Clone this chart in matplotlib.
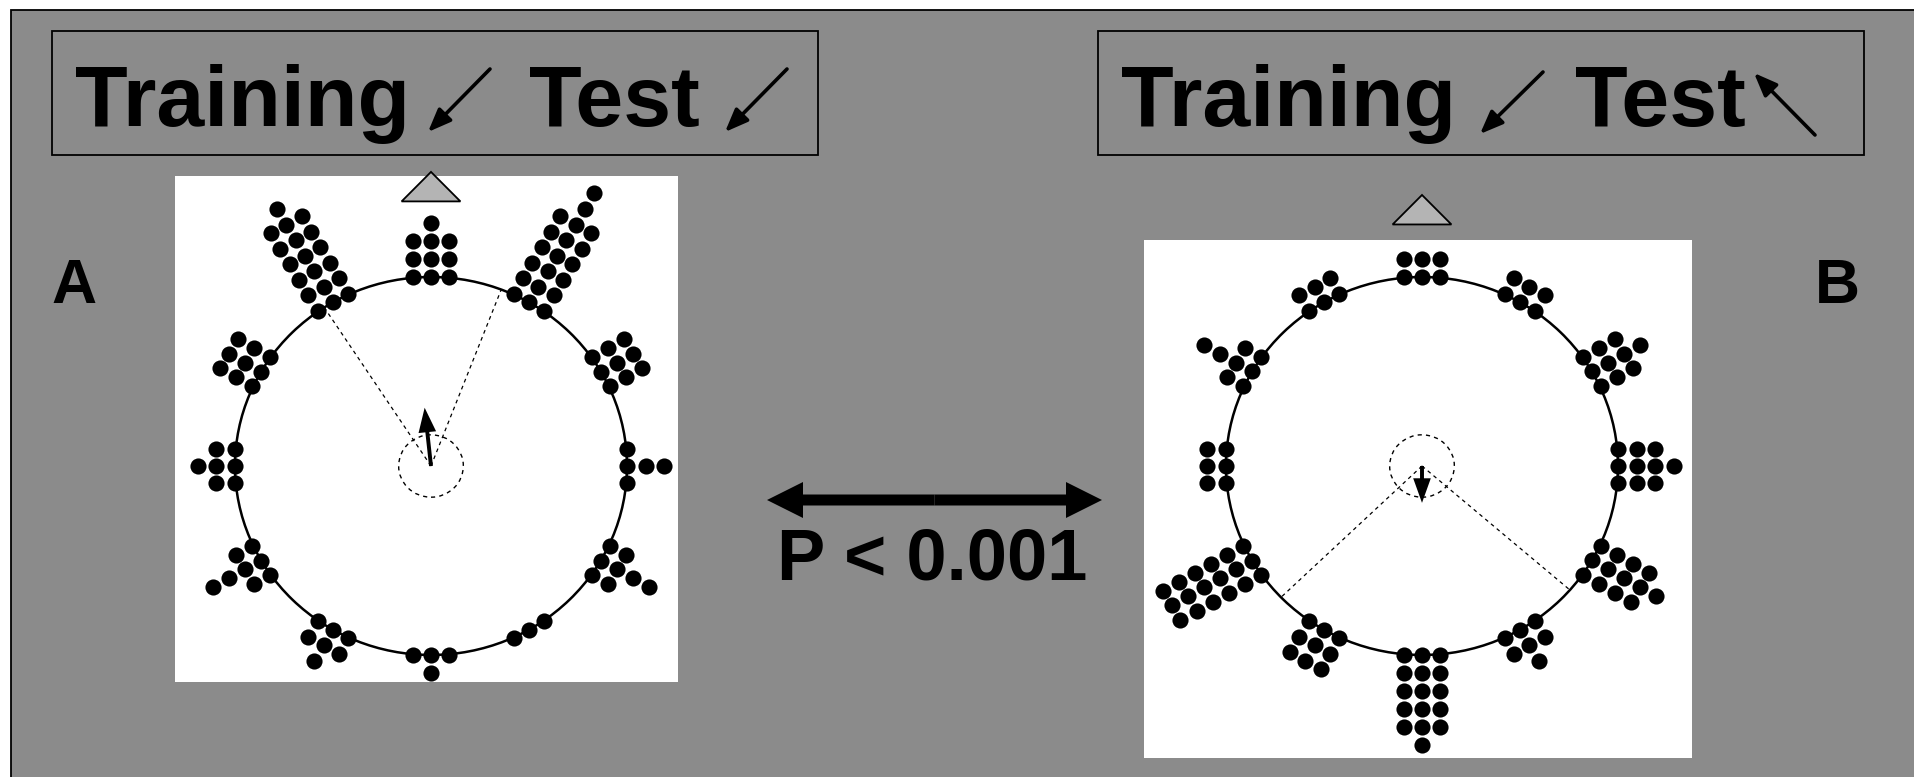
import numpy as np
import matplotlib
matplotlib.use("Agg")
import matplotlib.pyplot as plt
from matplotlib.patches import Rectangle, Circle, Polygon, FancyArrow

plt.rcParams["font.family"] = ["Liberation Sans", "DejaVu Sans"]

# ── Data: dot counts per 10° bin (0° = training direction, clockwise) ─────────
angles = list(range(0, 360, 10))
counts_a = [4, 3, 6, 8, 6, 3, 3, 3, 1, 3, 1, 2, 4, 2, 1, 1, 1, 1,
            2, 1, 2, 3, 2, 2, 4, 2, 2, 3, 2, 3, 3, 3, 6, 7, 6, 3]
counts_b = [2, 2, 2, 2, 2, 3, 4, 3, 3, 4, 3, 4, 5, 4, 2, 3, 2, 5,
            6, 5, 3, 3, 3, 6, 6, 6, 2, 2, 2, 2, 4, 2, 2, 2, 2, 2]

# mean vector (direction in deg, length as fraction of radius) and 95% CI
mean_dir = {"A": 354, "B": 180}
mean_len = {"A": 0.31, "B": 0.195}
ci = {"A": (327, 21), "B": (131, 226)}
crit_radius = 0.165

titles = {"A": ["Training", "Test"], "B": ["Training", "Test"]}
p_text = "P < 0.001"

GRAY = "#8b8b8b"
TRI = "#b4b4b4"


def dot_positions(angles, counts, r0=1.0, dr=0.095, dt=0.09):
    """Stack dots outward from the circle, three columns per 30° spoke."""
    xs, ys = [], []
    for a, n in zip(angles, counts):
        d = 30 * round(a / 30)
        j = (a - d) / 10
        th = np.deg2rad(d)
        for k in range(n):
            r = r0 + k * dr
            xs.append(r * np.sin(th) + j * dt * np.cos(th))
            ys.append(r * np.cos(th) - j * dt * np.sin(th))
    return xs, ys


W, H = 1914, 777
fig = plt.figure(figsize=(W / 100, H / 100), dpi=100, facecolor="white")

# ── background layer in pixel coordinates ─────────────────────────────────────
bg = fig.add_axes([0, 0, 1, 1], zorder=0)
bg.set_xlim(0, W)
bg.set_ylim(H, 0)
bg.axis("off")
bg.add_patch(Rectangle((11, 10), 2000, 1000, facecolor=GRAY,
                       edgecolor="black", lw=1.3))

# title boxes
for x0 in (52, 1098):
    bg.add_patch(Rectangle((x0, 31), 766, 124, facecolor="none",
                           edgecolor="black", lw=1.3))

tkw = dict(fontsize=62, fontweight="bold", ha="left", va="baseline")
bg.text(75, 126, titles["A"][0], **tkw)
bg.text(529, 126, titles["A"][1], **tkw)
bg.text(1121, 126, titles["B"][0], **tkw)
bg.text(1575, 126, titles["B"][1], **tkw)

akw = dict(arrowstyle="-|>,head_length=0.7,head_width=0.28", lw=2.6,
           color="black", mutation_scale=20, shrinkA=0, shrinkB=0)
for tail, head in [((490, 69), (428, 132)), ((787, 69), (725, 132)),
                   ((1543, 72), (1480, 134)), ((1815, 135), (1754, 73))]:
    bg.annotate("", xy=head, xytext=tail, arrowprops=akw)

bg.text(51, 303, "A", fontsize=45, fontweight="bold", ha="left", va="baseline")
bg.text(1815, 303, "B", fontsize=45, fontweight="bold", ha="left", va="baseline")

# double arrow + p value
cx = 934.5
for dx in (-167.5, 167.5):
    bg.add_patch(FancyArrow(cx, 500, dx, 0, width=11, head_width=36,
                            head_length=36, length_includes_head=True,
                            color="black", lw=0))
bg.text(932, 579, p_text, fontsize=52, fontweight="bold", ha="center",
        va="baseline")

# ── circular dot plots ────────────────────────────────────────────────────────
panels = {
    # key: (white box left, top, right, bottom in px), circle centre px
    "A": ((175, 176, 678, 682), (431, 466), counts_a, 1.40, 1.556),
    "B": ((1144, 240, 1692, 758), (1422, 466), counts_b, 1.278, 1.434),
}
RX, RY = 196, 189

for key, (box, ctr, counts, tri_base, tri_top) in panels.items():
    l, t, r, b = box
    ax = fig.add_axes([l / W, 1 - b / H, (r - l) / W, (b - t) / H], zorder=1)
    ax.set_facecolor("white")
    ax.set_xlim((l - ctr[0]) / RX, (r - ctr[0]) / RX)
    ax.set_ylim((ctr[1] - b) / RY, (ctr[1] - t) / RY)
    ax.set_xticks([])
    ax.set_yticks([])
    for s in ax.spines.values():
        s.set_visible(False)

    ax.add_patch(Circle((0, 0), 1.0, fill=False, lw=1.8, color="black"))
    ax.add_patch(Circle((0, 0), crit_radius, fill=False, lw=1.0,
                        ls=(0, (3, 3)), color="black"))
    for a in ci[key]:
        th = np.deg2rad(a)
        ax.plot([0, np.sin(th)], [0, np.cos(th)], color="black", lw=0.9,
                ls=(0, (3, 3)))

    xs, ys = dot_positions(angles, counts)
    ax.scatter(xs, ys, s=135, color="black", linewidths=0, zorder=3,
               clip_on=False)

    th = np.deg2rad(mean_dir[key])
    L = mean_len[key]
    ax.add_patch(FancyArrow(0, 0, L * np.sin(th), L * np.cos(th),
                            width=0.02, head_width=0.09, head_length=0.13,
                            length_includes_head=True, color="black", lw=0,
                            zorder=4))

    ax.add_patch(Polygon([(-0.15, tri_base), (0.15, tri_base), (0, tri_top)],
                         closed=True, facecolor=TRI, edgecolor="black",
                         lw=1.3, clip_on=False, zorder=5))

fig.savefig("out.png", dpi=100, facecolor="white")
